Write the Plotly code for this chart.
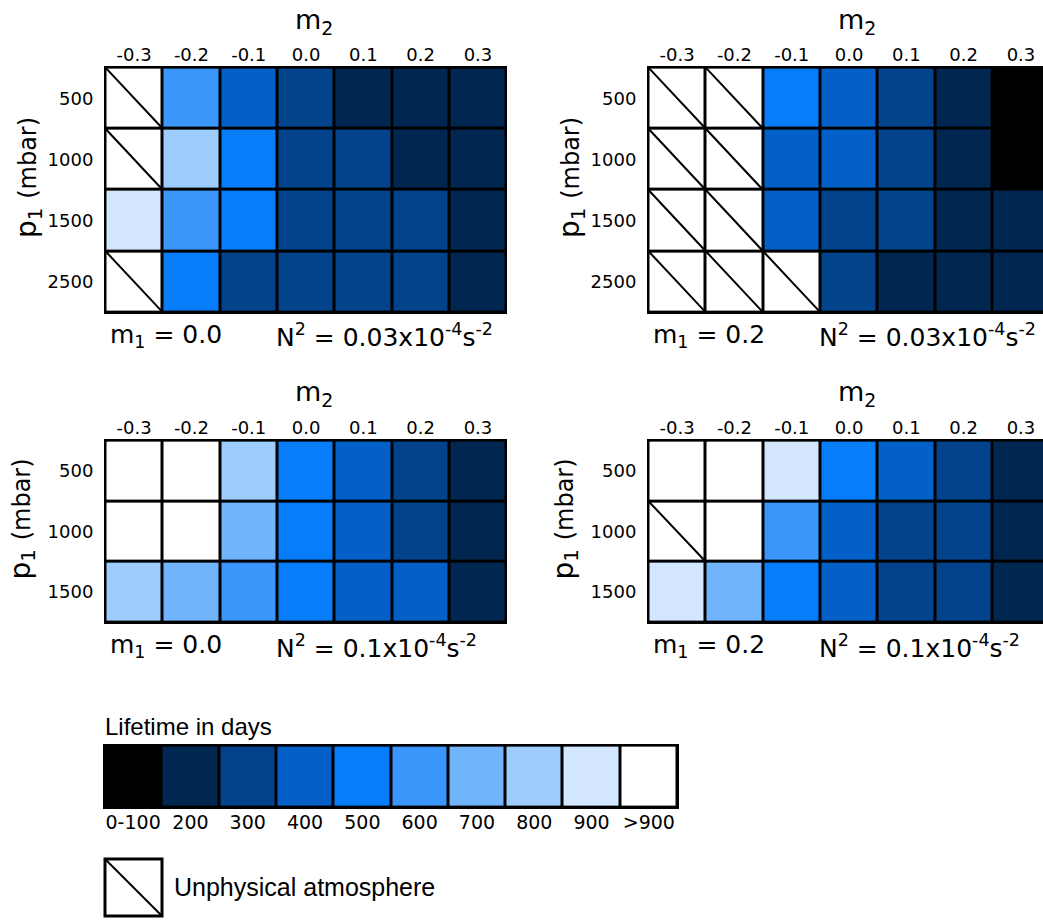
import plotly.graph_objects as go

# ---------------- data ----------------
m2_labels = ["-0.3", "-0.2", "-0.1", "0.0", "0.1", "0.2", "0.3"]
p1_labels_4 = ["500", "1000", "1500", "2500"]
p1_labels_3 = ["500", "1000", "1500"]

# lifetime in days (upper edge of bin); 1000 means ">900"; None = unphysical atmosphere
life_m1_00_N003 = [
    [None, 600, 400, 300, 200, 200, 200],
    [None, 800, 500, 300, 300, 200, 200],
    [900, 600, 500, 300, 300, 300, 200],
    [None, 500, 300, 300, 300, 300, 200],
]
life_m1_02_N003 = [
    [None, None, 500, 400, 300, 200, 100],
    [None, None, 400, 400, 300, 200, 100],
    [None, None, 400, 300, 300, 200, 200],
    [None, None, None, 300, 200, 200, 200],
]
life_m1_00_N01 = [
    [1000, 1000, 800, 500, 400, 300, 200],
    [1000, 1000, 700, 500, 400, 300, 200],
    [800, 700, 600, 500, 400, 400, 200],
]
life_m1_02_N01 = [
    [1000, 1000, 900, 500, 400, 300, 200],
    [None, 1000, 600, 400, 300, 300, 200],
    [900, 700, 500, 400, 300, 300, 200],
]

legend_values = [100, 200, 300, 400, 500, 600, 700, 800, 900, 1000]
legend_labels = ["0-100", "200", "300", "400", "500", "600", "700", "800", "900", ">900"]
bin_colors = ["#000000", "#01264f", "#03438c", "#0360c8", "#077dfa",
              "#3a96fa", "#70b4fc", "#9ecdfd", "#d2e6fe", "#ffffff"]

# ---------------- helpers ----------------
W, H = 1043, 922


def fx(px):
    return px / W


def fy(py):
    return 1 - py / H


colorscale = []
for i, c in enumerate(bin_colors):
    colorscale.append([i / 10, c])
    colorscale.append([(i + 1) / 10, c])

PANEL_FONT = "DejaVu Sans"
ARIAL = "Liberation Sans"
CELL_W = 57.3
PAD = 0.026
TICK_SIZE = 18

panels = [
    dict(vals=life_m1_00_N003, ylab=p1_labels_4, box=(104, 66, 507, 314),
         m1="m<sub>1</sub> = 0.0", n2="N<sup>2</sup> = 0.03x10<sup>-4</sup>s<sup>-2</sup>"),
    dict(vals=life_m1_02_N003, ylab=p1_labels_4, box=(647, 66, 1043, 314),
         m1="m<sub>1</sub> = 0.2", n2="N<sup>2</sup> = 0.03x10<sup>-4</sup>s<sup>-2</sup>"),
    dict(vals=life_m1_00_N01, ylab=p1_labels_3, box=(104, 439, 507, 624),
         m1="m<sub>1</sub> = 0.0", n2="N<sup>2</sup> = 0.1x10<sup>-4</sup>s<sup>-2</sup>"),
    dict(vals=life_m1_02_N01, ylab=p1_labels_3, box=(647, 439, 1043, 624),
         m1="m<sub>1</sub> = 0.2", n2="N<sup>2</sup> = 0.1x10<sup>-4</sup>s<sup>-2</sup>"),
]

fig = go.Figure()
annotations = []
shapes = []
layout_axes = {}

for k, p in enumerate(panels, start=1):
    sfx = "" if k == 1 else str(k)
    xa, ya = "x" + sfx, "y" + sfx
    vals = p["vals"]
    nrow, ncol = len(vals), len(vals[0])
    z = [[1000 if v is None else v for v in row] for row in vals]
    fig.add_trace(go.Heatmap(
        z=z, x=list(range(ncol)), y=list(range(nrow)),
        zmin=50, zmax=1050, colorscale=colorscale, showscale=False,
        xgap=3, ygap=3, hoverinfo="skip", xaxis=xa, yaxis=ya))
    # diagonals for unphysical cells
    dx, dy = [], []
    for r, row in enumerate(vals):
        for c, v in enumerate(row):
            if v is None:
                dx += [c - 0.5, c + 0.5, None]
                dy += [r - 0.5, r + 0.5, None]
    if dx:
        fig.add_trace(go.Scatter(x=dx, y=dy, mode="lines",
                                 line=dict(color="black", width=2),
                                 hoverinfo="skip", showlegend=False,
                                 xaxis=xa, yaxis=ya))
    x0, y0, x1, y1 = p["box"]
    xend = -0.5 - PAD + (x1 - x0) / CELL_W
    xend = min(xend, ncol - 0.5 + PAD)
    layout_axes["xaxis" + sfx] = dict(
        domain=[fx(x0), fx(x1)], range=[-0.5 - PAD, xend], anchor=ya,
        side="top", tickmode="array", tickvals=list(range(ncol)), ticktext=m2_labels,
        ticks="", tickfont=dict(family=PANEL_FONT, size=TICK_SIZE, color="black"),
        showgrid=False, zeroline=False, showline=False, fixedrange=True)
    layout_axes["yaxis" + sfx] = dict(
        domain=[fy(y1), fy(y0)], range=[nrow - 0.5 + PAD, -0.5 - PAD], anchor=xa,
        tickmode="array", tickvals=list(range(nrow)), ticktext=p["ylab"],
        ticks="outside", ticklen=6, tickcolor="rgba(0,0,0,0)",
        tickfont=dict(family=PANEL_FONT, size=TICK_SIZE, color="black"),
        showgrid=False, zeroline=False, showline=False, fixedrange=True)

    cx = (x0 + min(x0 + 403, 1050)) / 2
    # m2 title
    annotations.append(dict(text="m<sub>2</sub>", x=fx(cx + 8), y=fy(y0 - 45),
                            xref="paper", yref="paper", showarrow=False,
                            xanchor="center", yanchor="middle",
                            font=dict(family=PANEL_FONT, size=27, color="black")))
    # bottom labels
    annotations.append(dict(text=p["m1"], x=fx(x0 + 4), y=fy(y1 + 22),
                            xref="paper", yref="paper", showarrow=False,
                            xanchor="left", yanchor="middle",
                            font=dict(family=PANEL_FONT, size=25, color="black")))
    annotations.append(dict(text=p["n2"], x=fx(x0 + 170), y=fy(y1 + 22),
                            xref="paper", yref="paper", showarrow=False,
                            xanchor="left", yanchor="middle",
                            font=dict(family=PANEL_FONT, size=25, color="black")))
    # y label
    ylx = x0 - 76 if k in (1, 2) else x0 - 82
    annotations.append(dict(text="p<sub>1</sub> <span style='font-size:24px'>(mbar)</span>",
                            x=fx(ylx), y=fy((y0 + y1) / 2 - 12),
                            xref="paper", yref="paper", showarrow=False,
                            textangle=-90, xanchor="center", yanchor="middle",
                            font=dict(family=PANEL_FONT, size=28, color="black")))

# ---------------- legend bar ----------------
fig.add_trace(go.Heatmap(
    z=[legend_values], x=list(range(len(legend_values))), y=[0],
    zmin=50, zmax=1050, colorscale=colorscale, showscale=False,
    xgap=3, ygap=3, hoverinfo="skip", xaxis="x5", yaxis="y5"))
layout_axes["xaxis5"] = dict(
    domain=[fx(103), fx(679)], range=[-0.5 - PAD, 9.5 + PAD], anchor="y5",
    side="bottom", tickmode="array", tickvals=list(range(10)), ticktext=legend_labels,
    ticks="", tickfont=dict(family=PANEL_FONT, size=19, color="black"),
    showgrid=False, zeroline=False, showline=False, fixedrange=True)
layout_axes["yaxis5"] = dict(
    domain=[fy(809), fy(744)], range=[0.5 + PAD, -0.5 - PAD], anchor="x5",
    showticklabels=False, ticks="", showgrid=False, zeroline=False,
    showline=False, fixedrange=True)

annotations.append(dict(text="Lifetime in days", x=fx(103), y=fy(726),
                        xref="paper", yref="paper", showarrow=False,
                        xanchor="left", yanchor="middle",
                        font=dict(family=ARIAL, size=24, color="black")))
annotations.append(dict(text="Unphysical atmosphere", x=fx(172), y=fy(887),
                        xref="paper", yref="paper", showarrow=False,
                        xanchor="left", yanchor="middle",
                        font=dict(family=ARIAL, size=25, color="black")))
shapes.append(dict(type="rect", xref="paper", yref="paper",
                   x0=fx(105), x1=fx(162), y0=fy(916), y1=fy(859),
                   line=dict(color="black", width=3), fillcolor="white"))
shapes.append(dict(type="line", xref="paper", yref="paper",
                   x0=fx(106), x1=fx(161), y0=fy(860), y1=fy(915),
                   line=dict(color="black", width=2)))

fig.update_layout(
    width=W, height=H, margin=dict(l=0, r=0, t=0, b=0),
    paper_bgcolor="white", plot_bgcolor="black",
    font=dict(family=PANEL_FONT, size=18, color="black"),
    showlegend=False, annotations=annotations, shapes=shapes,
    **layout_axes)

fig.write_html("out.html")
